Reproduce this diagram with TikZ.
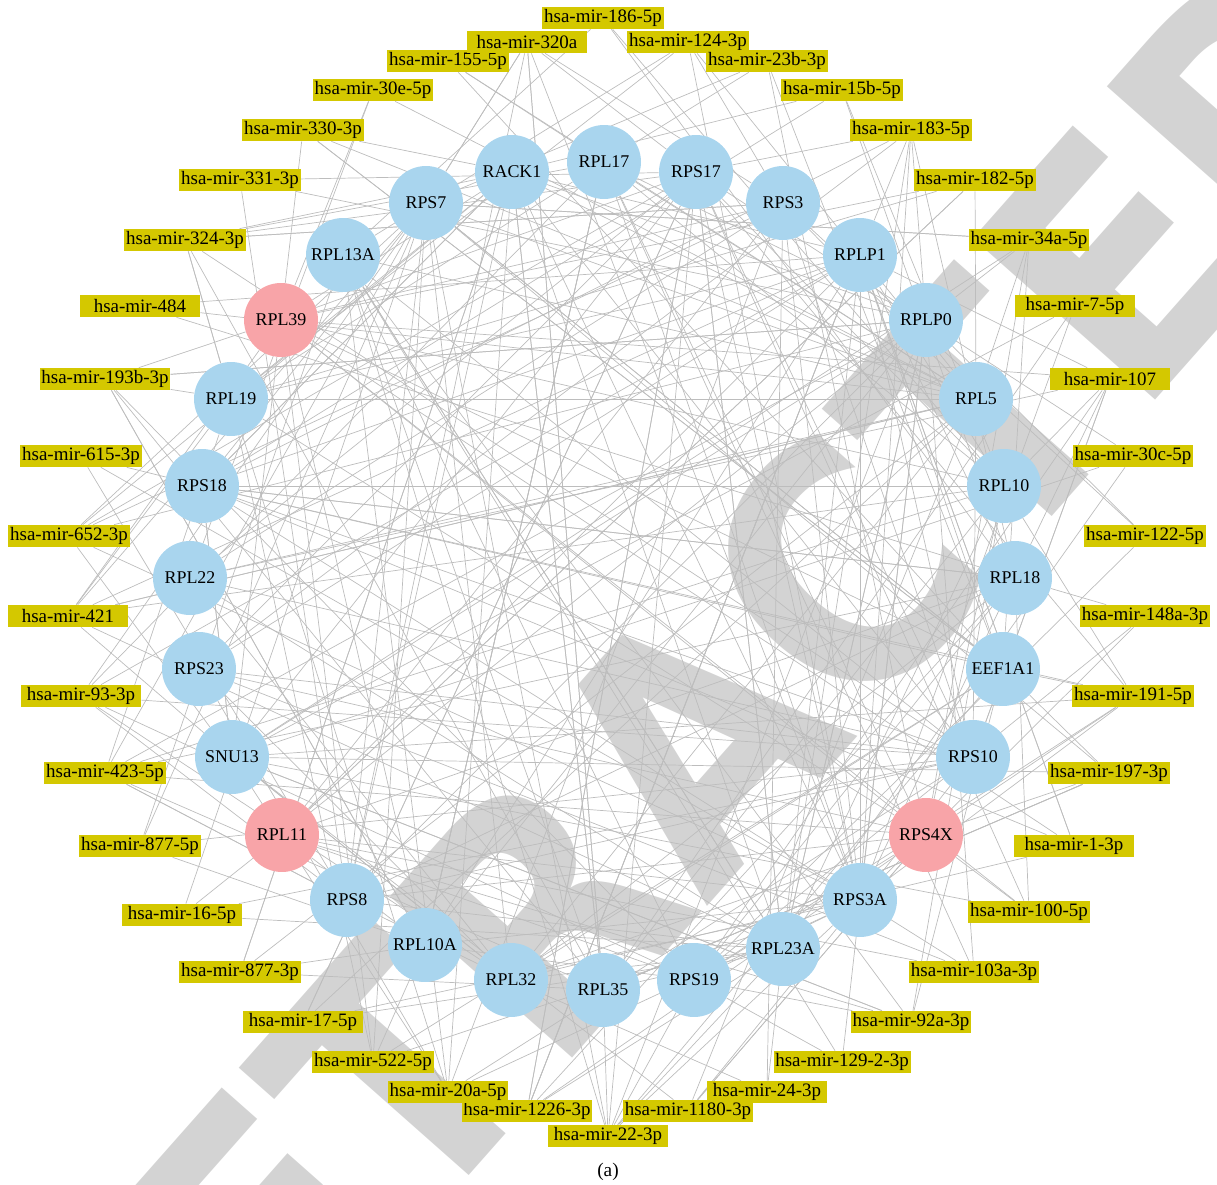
\documentclass[tikz,border=0pt]{standalone}
\usepackage{fontspec}
\setmainfont{Liberation Serif}
\newfontfamily\wmfont[FakeStretch=0.89]{DejaVu Sans}
\usetikzlibrary{backgrounds}
\definecolor{protblue}{HTML}{A9D5EE}
\definecolor{protpink}{HTML}{F8A4A8}
\definecolor{mirbox}{HTML}{D4C800}
\definecolor{wmgray}{HTML}{D3D3D3}
\definecolor{edgegray}{HTML}{BDBDBD}

\begin{document}
\begin{tikzpicture}[x=0.02cm, y=-0.02cm,
   prot/.style={circle, fill=protblue, minimum size=1.48cm, inner sep=0pt,
      font=\fontsize{10.2}{12}\selectfont},
   hub/.style={prot, fill=protpink},
   mir/.style={fill=mirbox, minimum width=2.4cm, minimum height=0.44cm,
      inner sep=1pt, font=\fontsize{10.8}{12}\selectfont},
   edge/.style={edgegray, line width=0.4pt}]
      \useasboundingbox (0,0) rectangle (1217,1185);

      \node (p0) [prot] at (604,162) {RPL17};
      \node (p1) [prot] at (696,172) {RPS17};
      \node (p2) [prot] at (783,203) {RPS3};
      \node (p3) [prot] at (860,255) {RPLP1};
      \node (p4) [prot] at (926,320) {RPLP0};
      \node (p5) [prot] at (976,399) {RPL5};
      \node (p6) [prot] at (1004,486) {RPL10};
      \node (p7) [prot] at (1015,578) {RPL18};
      \node (p8) [prot] at (1003,669) {EEF1A1};
      \node (p9) [prot] at (973,757) {RPS10};
      \node (p10) [hub] at (926,835) {RPS4X};
      \node (p11) [prot] at (860,900) {RPS3A};
      \node (p12) [prot] at (783,949) {RPL23A};
      \node (p13) [prot] at (694,980) {RPS19};
      \node (p14) [prot] at (603,990) {RPL35};
      \node (p15) [prot] at (511,980) {RPL32};
      \node (p16) [prot] at (425,945) {RPL10A};
      \node (p17) [prot] at (347,900) {RPS8};
      \node (p18) [hub] at (282,835) {RPL11};
      \node (p19) [prot] at (232,757) {SNU13};
      \node (p20) [prot] at (199,669) {RPS23};
      \node (p21) [prot] at (190,578) {RPL22};
      \node (p22) [prot] at (202,486) {RPS18};
      \node (p23) [prot] at (231,399) {RPL19};
      \node (p24) [hub] at (281,320) {RPL39};
      \node (p25) [prot] at (343,255) {RPL13A};
      \node (p26) [prot] at (426,203) {RPS7};
      \node (p27) [prot] at (512,172) {RACK1};

      \node (m0) [mir] at (603,18) {hsa-mir-186-5p};
      \node (m1) [mir] at (688,42) {hsa-mir-124-3p};
      \node (m2) [mir] at (767,61) {hsa-mir-23b-3p};
      \node (m3) [mir] at (842,90) {hsa-mir-15b-5p};
      \node (m4) [mir] at (911,130) {hsa-mir-183-5p};
      \node (m5) [mir] at (975,180) {hsa-mir-182-5p};
      \node (m6) [mir] at (1029,240) {hsa-mir-34a-5p};
      \node (m7) [mir] at (1075,306) {hsa-mir-7-5p};
      \node (m8) [mir] at (1110,379) {hsa-mir-107};
      \node (m9) [mir] at (1133,456) {hsa-mir-30c-5p};
      \node (m10) [mir] at (1145,536) {hsa-mir-122-5p};
      \node (m11) [mir] at (1145,616) {hsa-mir-148a-3p};
      \node (m12) [mir] at (1133,696) {hsa-mir-191-5p};
      \node (m13) [mir] at (1109,773) {hsa-mir-197-3p};
      \node (m14) [mir] at (1074,846) {hsa-mir-1-3p};
      \node (m15) [mir] at (1029,912) {hsa-mir-100-5p};
      \node (m16) [mir] at (974,972) {hsa-mir-103a-3p};
      \node (m17) [mir] at (911,1022) {hsa-mir-92a-3p};
      \node (m18) [mir] at (842,1062) {hsa-mir-129-2-3p};
      \node (m19) [mir] at (767,1092) {hsa-mir-24-3p};
      \node (m20) [mir] at (688,1111) {hsa-mir-1180-3p};
      \node (m21) [mir] at (608,1136) {hsa-mir-22-3p};
      \node (m22) [mir] at (527,1111) {hsa-mir-1226-3p};
      \node (m23) [mir] at (448,1092) {hsa-mir-20a-5p};
      \node (m24) [mir] at (373,1062) {hsa-mir-522-5p};
      \node (m25) [mir] at (303,1022) {hsa-mir-17-5p};
      \node (m26) [mir] at (240,972) {hsa-mir-877-3p};
      \node (m27) [mir] at (182,915) {hsa-mir-16-5p};
      \node (m28) [mir] at (140,846) {hsa-mir-877-5p};
      \node (m29) [mir] at (105,773) {hsa-mir-423-5p};
      \node (m30) [mir] at (81,696) {hsa-mir-93-3p};
      \node (m31) [mir] at (68,616) {hsa-mir-421};
      \node (m32) [mir] at (69,536) {hsa-mir-652-3p};
      \node (m33) [mir] at (81,456) {hsa-mir-615-3p};
      \node (m34) [mir] at (105,379) {hsa-mir-193b-3p};
      \node (m35) [mir] at (140,306) {hsa-mir-484};
      \node (m36) [mir] at (185,240) {hsa-mir-324-3p};
      \node (m37) [mir] at (240,180) {hsa-mir-331-3p};
      \node (m38) [mir] at (303,130) {hsa-mir-330-3p};
      \node (m39) [mir] at (373,90) {hsa-mir-30e-5p};
      \node (m40) [mir] at (448,61) {hsa-mir-155-5p};
      \node (m41) [mir] at (527,42) {hsa-mir-320a};

      \node (cap) at (608,1172) {\fontsize{11}{13}\selectfont(a)};

      \begin{scope}[on background layer]
         \clip (0,0) rectangle (1217,1185);
         \node (wm) [rotate=48.5, text=wmgray, inner sep=0pt,
            font=\wmfont\bfseries\fontsize{190}{190}\selectfont] at (694,738) {RETRACTED};
         \pgfmathsetseed{7}
         \foreach \i in {0,...,41} {
            \pgfmathtruncatemacro\nn{random(3,9)}
            \foreach \k in {1,...,\nn} {
               \pgfmathtruncatemacro\tgt{random(0,27)}
               \draw[edge] (m\i) -- (p\tgt);
            }
         }
         \foreach \i in {0,...,27} {
            \foreach \k in {1,...,4} {
               \pgfmathtruncatemacro\tgt{mod(\i+random(2,26),28)}
               \draw[edge] (p\i) -- (p\tgt);
            }
         }
      \end{scope}
\end{tikzpicture}
\end{document}
